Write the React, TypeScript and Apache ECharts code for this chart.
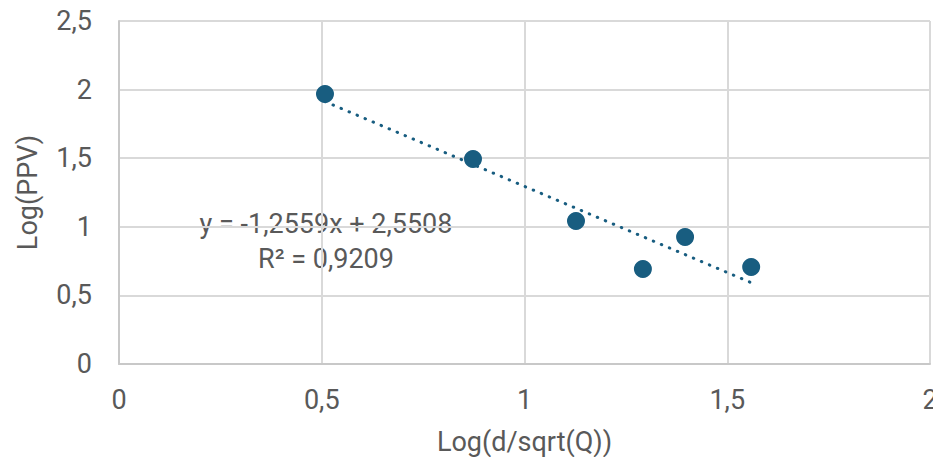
import React, { useEffect, useRef } from "react";
import * as echarts from "echarts";

const xValues = [0.508, 0.873, 1.127, 1.292, 1.396, 1.559];
const yValues = [1.968, 1.494, 1.042, 0.692, 0.926, 0.707];
const slope = -1.2559;
const intercept = 2.5508;
const r2 = 0.9209;
const xAxisTitle = "Log(d/sqrt(Q))";
const yAxisTitle = "Log(PPV)";

const fmt = (v: number) => String(v).replace(".", ",");

export default function App() {
  const ref = useRef<HTMLDivElement>(null);
  useEffect(() => {
    if (!ref.current) return;
    const chart = echarts.init(ref.current, undefined, { renderer: "svg" });
    const pts = xValues.map((x, i) => [x, yValues[i]]);
    const xMin = Math.min(...xValues);
    const xMax = Math.max(...xValues);
    const trend = [
      [xMin, slope * xMin + intercept],
      [xMax, slope * xMax + intercept],
    ];
    const color = "#185d80";
    const font = "Roboto, 'Liberation Sans', sans-serif";
    const fs = 27;
    const txt = "#595959";
    chart.setOption({
      animation: false,
      grid: { left: 119, right: 11, top: 21, bottom: 101, containLabel: false },
      xAxis: {
        type: "value",
        min: 0,
        max: 2,
        interval: 0.5,
        name: xAxisTitle,
        nameLocation: "middle",
        nameGap: 64,
        nameTextStyle: { fontSize: fs, color: txt, fontFamily: font },
        axisLine: { show: true, lineStyle: { color: "#c8c8c8", width: 2 } },
        axisTick: { show: false },
        axisLabel: {
          fontSize: fs,
          color: txt,
          fontFamily: font,
          margin: 22,
          formatter: (v: number) => fmt(v),
        },
        splitLine: { show: true, lineStyle: { color: "#d9d9d9", width: 2 } },
      },
      yAxis: {
        type: "value",
        min: 0,
        max: 2.5,
        interval: 0.5,
        name: yAxisTitle,
        nameLocation: "middle",
        nameGap: 78,
        nameRotate: 90,
        nameTextStyle: { fontSize: fs, color: txt, fontFamily: font },
        axisLine: { show: true, lineStyle: { color: "#c8c8c8", width: 2 } },
        axisTick: { show: false },
        axisLabel: {
          fontSize: fs,
          color: txt,
          fontFamily: font,
          margin: 27,
          formatter: (v: number) => fmt(v),
        },
        splitLine: { show: true, lineStyle: { color: "#d9d9d9", width: 2 } },
      },
      series: [
        {
          type: "line",
          data: trend,
          showSymbol: false,
          symbol: "none",
          lineStyle: { color, width: 3, type: [0.5, 8.2], cap: "round" },
          z: 2,
        },
        {
          type: "scatter",
          data: pts,
          symbolSize: 18,
          itemStyle: { color, opacity: 1 },
          z: 3,
        },
      ],
      graphic: [
        {
          type: "text",
          x: 326,
          y: 224,
          style: {
            text: `y = ${fmt(slope)}x + ${fmt(intercept)}`,
            fontSize: fs,
            fill: txt,
            fontFamily: font,
            align: "center",
            verticalAlign: "middle",
          },
        },
        {
          type: "text",
          x: 326,
          y: 259,
          style: {
            text: `R² = ${fmt(r2)}`,
            fontSize: fs,
            fill: txt,
            fontFamily: font,
            align: "center",
            verticalAlign: "middle",
          },
        },
      ],
    });
    return () => chart.dispose();
  }, []);
  return <div ref={ref} style={{ width: 941, height: 465, margin: -8 }} />;
}
